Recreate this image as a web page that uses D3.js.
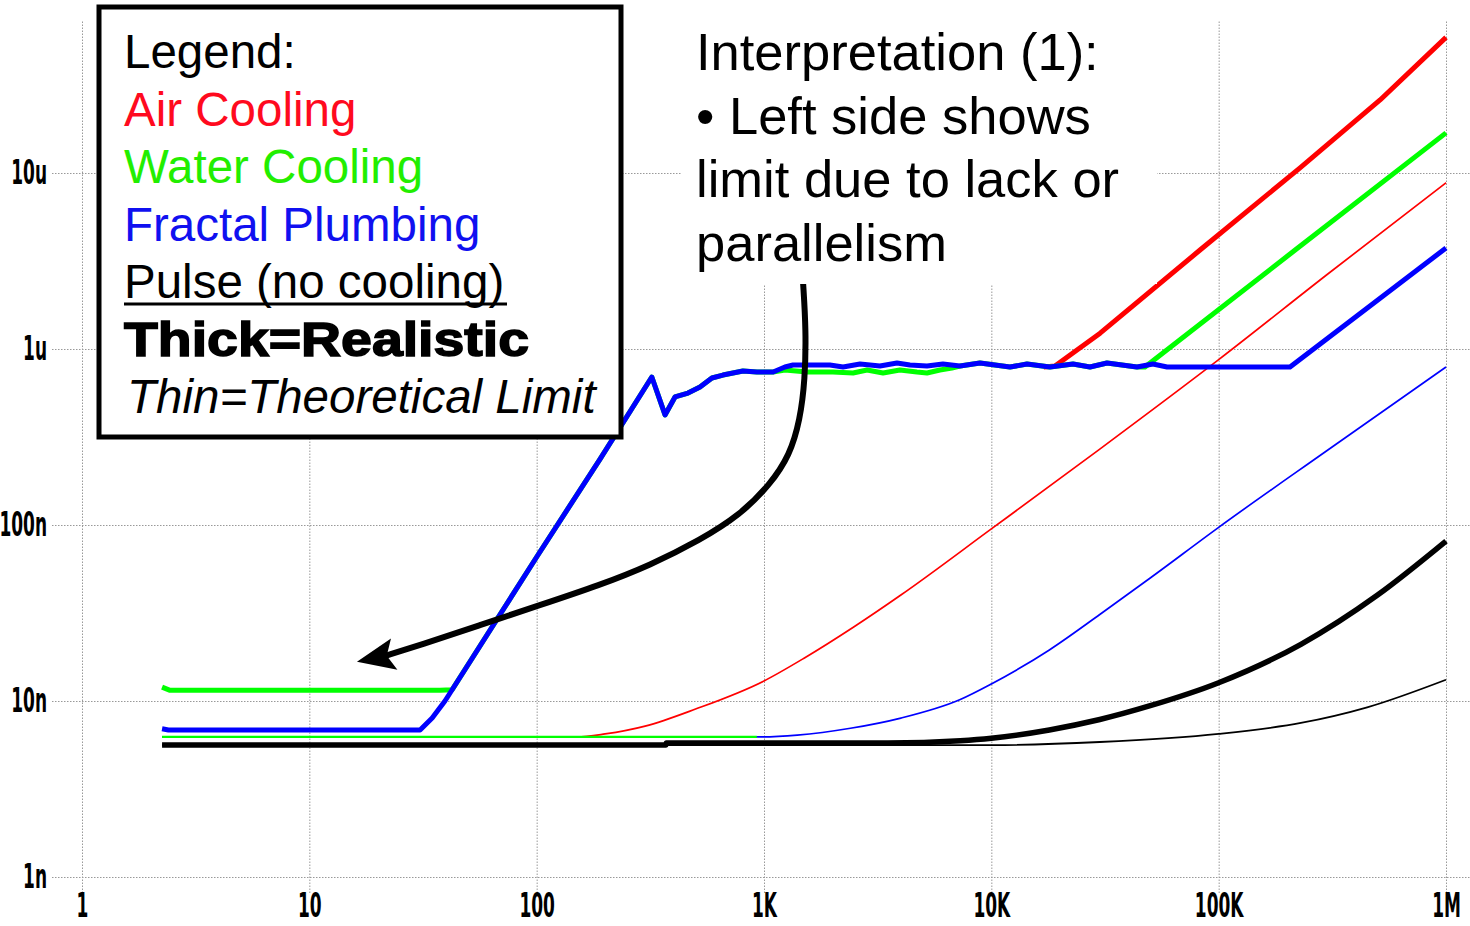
<!DOCTYPE html>
<html>
<head>
<meta charset="utf-8">
<script src="https://d3js.org/d3.v7.min.js"></script>
<style>
  body { margin: 0; background: #fff; }
  svg { display: block; }
  .grid line { stroke: #999; stroke-dasharray: 1.5,1.5; stroke-width: 1; }
  .tick text { font-family: "DejaVu Sans", sans-serif; font-weight: bold; fill: #000; }
</style>
</head>
<body>
<svg id="chart" width="1470" height="926"></svg>
<script>
// axis ticks
var xTicks = [1, 10, 100, 1e3, 1e4, 1e5, 1e6];
var xTickLabels = ["1", "10", "100", "1K", "10K", "100K", "1M"];
var yTicks = [1e-9, 1e-8, 1e-7, 1e-6, 1e-5];
var yTickLabels = ["1n", "10n", "100n", "1u", "10u"];

// thin = theoretical limit
var redThin = [[2.25,6.25e-9],[150,6.25e-9],[200,6.5e-9],[300,7.2e-9],[500,9.0e-9],[1000,13e-9],[1500,17.5e-9],
  [2500,26.5e-9],[4000,40e-9],[10000,95e-9],[30000,270e-9],[1e5,870e-9],[3e5,2.65e-6],[1e6,8.8e-6]];
var blueThin = [[2.25,6.25e-9],[950,6.25e-9],[1400,6.4e-9],[2400,7e-9],[4000,8.0e-9],[7300,10.2e-9],[10000,12.5e-9],
  [18000,19.5e-9],[30000,31e-9],[50000,50e-9],[1e5,97e-9],[3e5,265e-9],[1e6,790e-9]];
var greenThin = [[2.25,6.25e-9],[930,6.25e-9]];
var blackThin = [[2.25,5.62e-9],[10000,5.62e-9],[30000,5.85e-9],[1e5,6.5e-9],[2.3e5,7.5e-9],[4.5e5,9.2e-9],[1e6,13.2e-9]];

// thick = realistic
var blackThick = [[2.25,5.62e-9],[370,5.62e-9],[372,5.77e-9],[3500,5.77e-9],[7300,5.95e-9],[10000,6.15e-9],[18000,6.85e-9],
  [30000,7.85e-9],[50000,9.4e-9],[1e5,12.7e-9],[2.3e5,21e-9],[5e5,40e-9],[1e6,81e-9]];
var redThick = [[17000,790e-9],[19050,800e-9],[30100,1.23e-6],[82800,3.65e-6],[228000,10.7e-6],[513000,26e-6],[1e6,59e-6]];
var greenThick = [[2.25,12e-9],[2.44,11.5e-9],[37.6,11.5e-9],[42.5,11.6e-9],[100,65.8e-9],[190,237e-9],[321,693e-9],
  [367,422e-9],[406,534e-9],[463,562e-9],[523,608e-9],[590,684e-9],[660,711e-9],[808,750e-9],[931,740e-9],[1097,740e-9],
  [1236,760e-9],[1549,740e-9],[2010,740e-9],[2465,731e-9],[2840,760e-9],[3340,731e-9],[3960,760e-9],
  [4710,740e-9],[5212,731e-9],[5940,760e-9],[6710,780e-9],[7280,800e-9],[8913,832e-9],[12080,790e-9],[14350,822e-9],
  [18100,790e-9],[22870,822e-9],[27160,790e-9],[32270,832e-9],[43700,790e-9],[47400,790e-9],[217000,3.65e-6],[1e6,16.9e-6]];
var blueThick = [[2.25,6.95e-9],[2.4,6.84e-9],[30.7,6.84e-9],[34.7,8.0e-9],[39.5,10e-9],[100,65.8e-9],[190,237e-9],[321,693e-9],
  [367,422e-9],[406,534e-9],[463,562e-9],[523,608e-9],[590,684e-9],[660,711e-9],[808,750e-9],[931,740e-9],[1097,740e-9],
  [1236,790e-9],[1342,811e-9],[1950,811e-9],[2227,790e-9],[2645,822e-9],[3236,800e-9],[3846,832e-9],[4385,811e-9],
  [5212,800e-9],[6124,822e-9],[7280,800e-9],[8913,832e-9],[12080,790e-9],[14350,822e-9],[18100,790e-9],[22870,822e-9],
  [27160,790e-9],[32270,832e-9],[43700,790e-9],[51400,822e-9],[59300,790e-9],[206000,790e-9],[1e6,3.75e-6]];

// annotation arrow, in data coordinates
var arrowPath = [[1485,2.4e-6],[1531,1.28e-6],[1515,666e-9],[1440,395e-9],[1300,250e-9],[1062,169e-9],[784,114e-9],
  [523,82e-9],[315,59e-9],[190,45.6e-9],[103,35e-9],[56.3,27e-9],[30.7,20.8e-9],[21.5,18e-9]];
var arrowTip = [16.2, 16.7e-9];

var legendLines = [
  {text: "Legend:", color: "#000"},
  {text: "Air Cooling", color: "#ff0a1e"},
  {text: "Water Cooling", color: "#22ee00"},
  {text: "Fractal Plumbing", color: "#1010f0"},
  {text: "Pulse (no cooling)", color: "#000", underline: true},
  {text: "Thick=Realistic", color: "#000", bold: true},
  {text: "Thin=Theoretical Limit", color: "#000", italic: true}
];
var noteLines = ["Interpretation (1):", "\u2022 Left side shows", "limit due to lack or", "parallelism"];

var svg = d3.select("#chart");

var x = d3.scaleLog().domain([1, 1e6]).range([82, 1446]);
var y = d3.scaleLog().domain([1e-9, 1e-5]).range([877, 173]);

// grid + tick labels
var gy = svg.append("g").attr("class", "grid").attr("transform", "translate(52,0)")
  .call(d3.axisLeft(y).tickValues(yTicks).tickSize(-1418).tickPadding(5)
    .tickFormat(function(d, i) { return yTickLabels[i]; }));
var gx = svg.append("g").attr("class", "grid").attr("transform", "translate(0,893)")
  .call(d3.axisBottom(x).tickValues(xTicks).tickSize(-873).tickPadding(0)
    .tickFormat(function(d, i) { return xTickLabels[i]; }));
svg.selectAll(".grid .domain").remove();
gy.selectAll(".tick text").style("font-size", "34px").attr("x", -10).attr("transform", "scale(0.5,1)");
gx.selectAll(".tick text").style("font-size", "34px").attr("transform", "scale(0.5,1)");

var line = d3.line().x(function(d) { return x(d[0]); }).y(function(d) { return y(d[1]); });
var smooth = d3.line().curve(d3.curveMonotoneX).x(function(d) { return x(d[0]); }).y(function(d) { return y(d[1]); });

var series = [
  {data: redThin, color: "#ff0000", w: 1.7, gen: smooth},
  {data: blueThin, color: "#0000ff", w: 1.7, gen: smooth},
  {data: greenThin, color: "#00ff00", w: 2.2, gen: line},
  {data: blackThin, color: "#000", w: 1.8, gen: smooth},
  {data: blackThick, color: "#000", w: 5.5, gen: smooth},
  {data: redThick, color: "#ff0000", w: 5, gen: line},
  {data: greenThick, color: "#00ff00", w: 5, gen: line},
  {data: blueThick, color: "#0000ff", w: 5, gen: line}
];
svg.append("g").selectAll("path").data(series).join("path")
  .attr("d", function(d) { return d.gen(d.data); })
  .attr("fill", "none")
  .attr("stroke", function(d) { return d.color; })
  .attr("stroke-width", function(d) { return d.w; })
  .attr("stroke-linejoin", "round");

// arrow
svg.append("path")
  .attr("d", d3.line().curve(d3.curveBasis).x(function(d) { return x(d[0]); }).y(function(d) { return y(d[1]); })(arrowPath))
  .attr("fill", "none").attr("stroke", "#000").attr("stroke-width", 6);
var last = arrowPath[arrowPath.length - 1];
var tx = x(arrowTip[0]), ty = y(arrowTip[1]);
var dx = x(last[0]) - tx, dy = y(last[1]) - ty, len = Math.sqrt(dx*dx + dy*dy);
var ux = dx/len, uy = dy/len, L = 38, hw = 16;
svg.append("polygon")
  .attr("points", [[tx, ty], [tx + ux*L - uy*hw, ty + uy*L + ux*hw], [tx + ux*L*0.8, ty + uy*L*0.8], [tx + ux*L + uy*hw, ty + uy*L - ux*hw]].join(" "))
  .attr("fill", "#000");

// legend box
svg.append("rect").attr("x", 99).attr("y", 7).attr("width", 522).attr("height", 430)
  .attr("fill", "#fff").attr("stroke", "#000").attr("stroke-width", 5);
var lg = svg.append("g").style("font-family", "'Liberation Sans', Arial, sans-serif").style("font-size", "47.5px");
lg.selectAll("text").data(legendLines).join("text")
  .attr("x", function(d) { return d.italic ? 127 : 124; })
  .attr("y", function(d, i) { return 68 + i * 57.5; })
  .attr("fill", function(d) { return d.color; })
  .style("font-weight", function(d) { return d.bold ? "bold" : "normal"; })
  .style("font-style", function(d) { return d.italic ? "italic" : "normal"; })
  .attr("stroke", function(d) { return d.bold ? "#000" : "none"; })
  .attr("stroke-width", function(d) { return d.bold ? 1.5 : 0; })
  .attr("textLength", function(d) { return d.bold ? 405 : null; })
  .attr("lengthAdjust", "spacingAndGlyphs")
  .text(function(d) { return d.text; });
svg.append("line").attr("x1", 124).attr("x2", 507).attr("y1", 304).attr("y2", 304)
  .attr("stroke", "#000").attr("stroke-width", 3);

// interpretation note
svg.append("rect").attr("x", 681).attr("y", 0).attr("width", 476).attr("height", 284).attr("fill", "#fff");
svg.append("g").style("font-family", "'Liberation Sans', Arial, sans-serif").style("font-size", "52.5px")
  .selectAll("text").data(noteLines).join("text")
  .attr("x", 696).attr("y", function(d, i) { return 70 + i * 63.5; })
  .text(function(d) { return d; });
</script>
</body>
</html>
